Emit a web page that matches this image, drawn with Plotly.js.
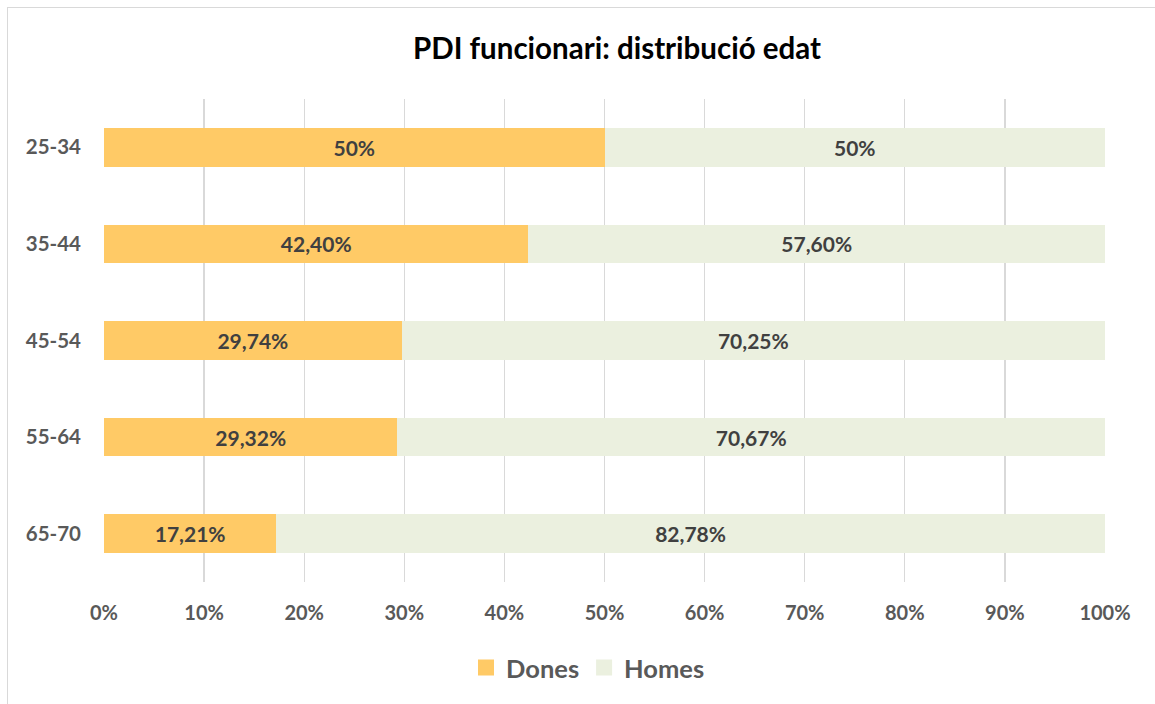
<!DOCTYPE html>
<html>
<head>
<meta charset="utf-8">
<script src="https://cdn.plot.ly/plotly-3.0.1.min.js"></script>
<style>
  html, body { margin: 0; padding: 0; background: #fff; }
  #wrap { position: relative; width: 1155px; height: 704px; overflow: hidden; }
  #chart { width: 1155px; height: 704px; }
  #frame { position: absolute; left: 7px; top: 7px; width: 1160px; height: 710px;
           border: 1px solid #d9d9d9; box-sizing: border-box; pointer-events: none; }
</style>
</head>
<body>
<div id="wrap"><div id="chart"></div><div id="frame"></div></div>
<script>
const categories = ['25-34', '35-44', '45-54', '55-64', '65-70'];
const dones = [50, 42.40, 29.74, 29.32, 17.21];
const homes = [50, 57.60, 70.25, 70.67, 82.78];
const seriesNames = ['Dones', 'Homes'];
const xTickVals = [0, 10, 20, 30, 40, 50, 60, 70, 80, 90, 100];
const xTickText = ['0%', '10%', '20%', '30%', '40%', '50%', '60%', '70%', '80%', '90%', '100%'];

function fmt(v) {
  return (Number.isInteger(v) ? String(v) : v.toFixed(2).replace('.', ',')) + '%';
}

const FONT = 'Lato, "Open Sans", sans-serif';
const labelFont = { family: FONT, size: 21, color: '#404040', weight: 'bold' };
const colors = ['#FFCA66', '#EBF0DF'];

function barTrace(name, vals, color) {
  return {
    type: 'bar', orientation: 'h', name: name,
    y: categories, x: vals, text: vals.map(fmt),
    textposition: 'inside', insidetextanchor: 'middle', constraintext: 'none',
    textfont: labelFont, insidetextfont: labelFont,
    marker: { color: color, line: { width: 0 } },
    width: 0.4, hoverinfo: 'skip', showlegend: false
  };
}
function legendTrace(name, color) {
  return {
    type: 'scatter', mode: 'markers', name: name,
    x: [null], y: [null],
    marker: { symbol: 'square', size: 17, color: color },
    showlegend: true, hoverinfo: 'skip'
  };
}

const traces = [
  barTrace(seriesNames[0], dones, colors[0]),
  barTrace(seriesNames[1], homes, colors[1]),
  legendTrace(seriesNames[0], colors[0]),
  legendTrace(seriesNames[1], colors[1])
];

const layout = {
  width: 1155, height: 704,
  margin: { l: 104, r: 50, t: 99, b: 122 },
  paper_bgcolor: '#ffffff', plot_bgcolor: '#ffffff',
  barmode: 'stack',
  title: {
    text: 'PDI funcionari: distribució edat',
    font: { family: FONT, size: 29.5, color: '#000000', weight: 'bold' },
    x: 617 / 1155, xanchor: 'center', xref: 'container',
    y: 1 - 49 / 704, yref: 'container', yanchor: 'middle'
  },
  xaxis: {
    range: [0, 100], tickvals: xTickVals, ticktext: xTickText,
    showgrid: true, gridcolor: '#d9d9d9', gridwidth: 1.3,
    zeroline: false, showline: false, ticks: '',
    ticklabelstandoff: 17,
    tickfont: { family: FONT, size: 20, color: '#595959', weight: 'bold' },
    fixedrange: true
  },
  yaxis: {
    autorange: 'reversed', type: 'category',
    showgrid: false, zeroline: false, showline: false, ticks: '',
    ticklabelstandoff: 22,
    tickfont: { family: FONT, size: 20.5, color: '#595959', weight: 'bold' },
    fixedrange: true
  },
  showlegend: true,
  legend: {
    orientation: 'h', x: 588 / 1155, xref: 'container', xanchor: 'center',
    y: 36 / 704, yref: 'container', yanchor: 'middle',
    font: { family: FONT, size: 25.5, color: '#595959', weight: 'bold' },
    itemwidth: 30, traceorder: 'normal', tracegroupgap: 0
  }
};

Plotly.newPlot('chart', traces, layout, { displayModeBar: false, staticPlot: true });
</script>
</body>
</html>
